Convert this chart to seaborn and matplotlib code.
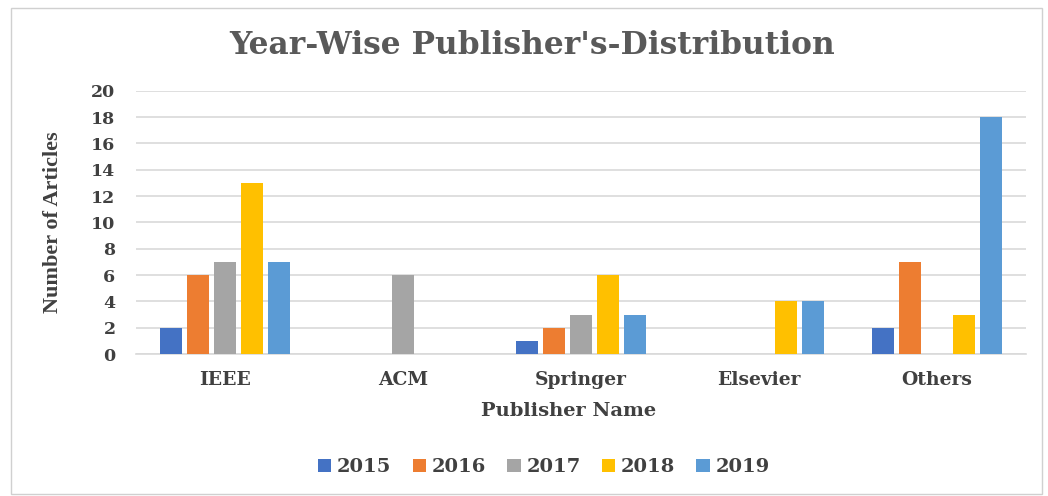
import pandas as pd
import matplotlib
matplotlib.use('Agg')
import matplotlib.pyplot as plt
import seaborn as sns
from matplotlib.patches import Rectangle

publishers = ['IEEE', 'ACM', 'Springer', 'Elsevier', 'Others']
years = ['2015', '2016', '2017', '2018', '2019']
y2015 = [2, 0, 1, 0, 2]
y2016 = [6, 0, 2, 0, 7]
y2017 = [7, 6, 3, 0, 0]
y2018 = [13, 0, 6, 4, 3]
y2019 = [7, 0, 3, 4, 18]
colors = ['#4472C4', '#ED7D31', '#A5A5A5', '#FFC000', '#5B9BD5']

rows = []
for yr, vals in zip(years, [y2015, y2016, y2017, y2018, y2019]):
    for p, v in zip(publishers, vals):
        rows.append({'Publisher': p, 'Year': yr, 'Articles': v})
df = pd.DataFrame(rows)

sns.set_style('white')
plt.rcParams['font.family'] = ['DejaVu Serif']
plt.rcParams['font.weight'] = 'bold'

fig = plt.figure(figsize=(10.48, 4.96), dpi=100)
ax = fig.add_axes([0.130, 0.286, 0.849, 0.531])

sns.barplot(data=df, x='Publisher', y='Articles', hue='Year', order=publishers,
            hue_order=years, palette=colors, saturation=1, width=0.76, gap=0.18,
            linewidth=0, ax=ax, zorder=3)

ax.set_ylim(0, 20)
ax.set_yticks(range(0, 21, 2))
ax.set_xlim(-0.5, 4.5)
ax.yaxis.grid(True, color='#D9D9D9', linewidth=1.2, zorder=0)
ax.set_axisbelow(True)
for s in ['top', 'right', 'left']:
    ax.spines[s].set_visible(False)
ax.spines['bottom'].set_color('#D9D9D9')
ax.spines['bottom'].set_linewidth(1.2)
ax.tick_params(axis='both', length=0, labelcolor='#404040')
ax.tick_params(axis='y', labelsize=12.5, pad=15)
ax.tick_params(axis='x', labelsize=13.5, pad=12)
ax.set_xlabel('Publisher Name', fontsize=14, fontweight='bold', color='#404040')
ax.xaxis.set_label_coords(0.486, -0.18)
ax.set_ylabel('Number of Articles', fontsize=16, fontweight='bold', color='#404040',
              family='Liberation Serif')
ax.yaxis.set_label_coords(-0.082, 0.5)

fig.text(0.508, 0.908, "Year-Wise Publisher's-Distribution", ha='center', va='center',
         fontsize=22.5, fontweight='bold', color='#595959')

handles, labels = ax.get_legend_handles_labels()
ax.legend(handles, labels, loc='center', bbox_to_anchor=(0.519, 0.058),
          bbox_transform=fig.transFigure, ncol=5, frameon=False,
          handlelength=0.67, handleheight=0.67, handletextpad=0.3, columnspacing=1.1,
          prop={'size': 14, 'weight': 'bold'}, labelcolor='#404040')

fig.patches.append(Rectangle((11 / 1048, 2 / 496), 1031 / 1048, 486 / 496,
                             transform=fig.transFigure, fill=False,
                             edgecolor='#D0D0D0', linewidth=1))

fig.savefig('out.png', dpi=100)
